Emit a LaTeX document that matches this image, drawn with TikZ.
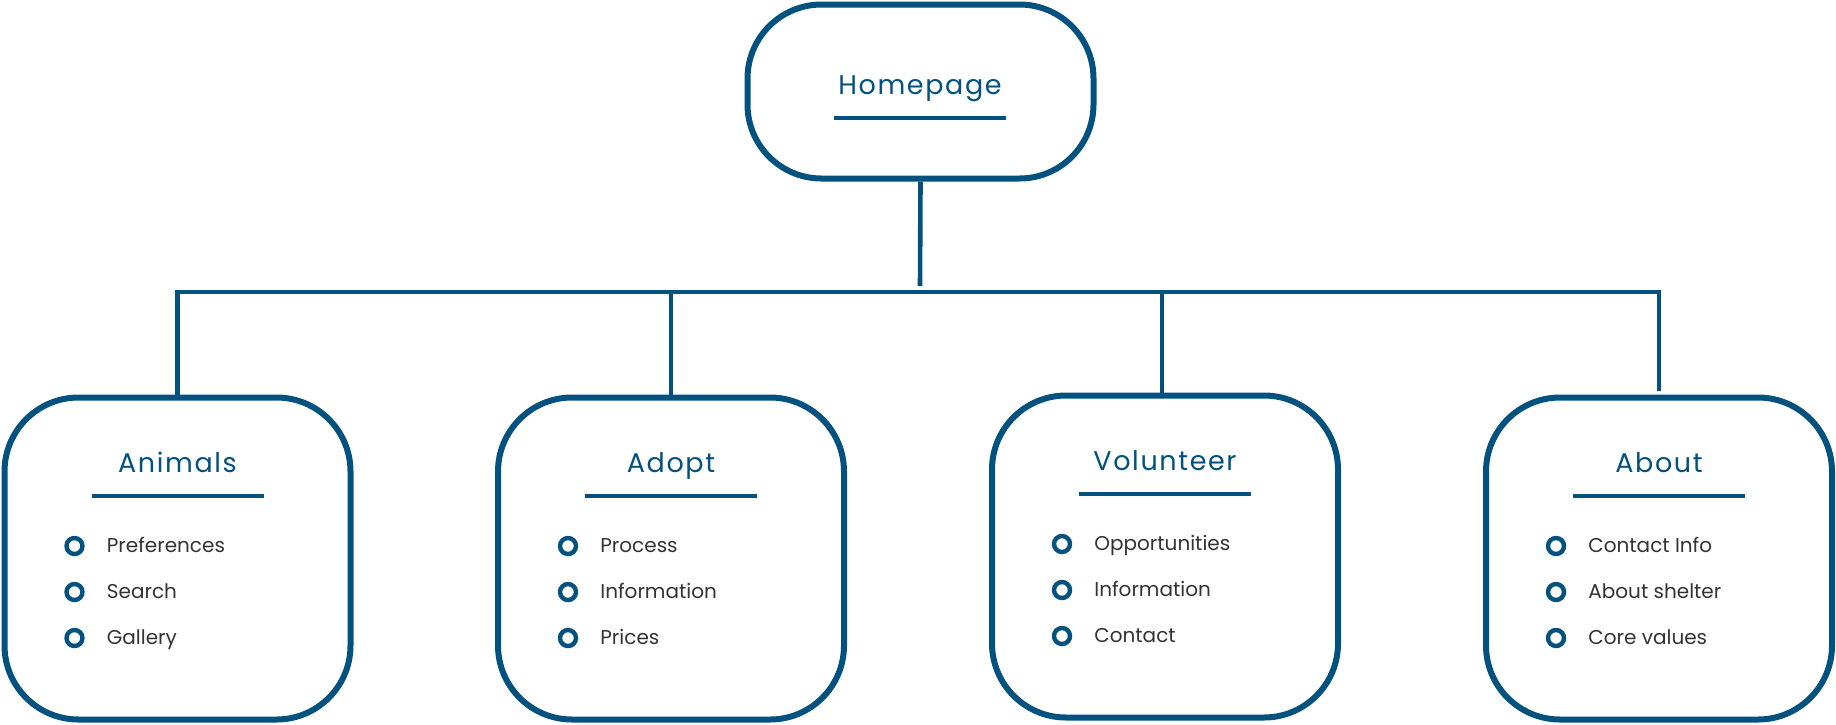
\documentclass[tikz,border=0pt]{standalone}
\usepackage{fontspec}
\setmainfont{Poppins}
\newfontfamily\headfont[LetterSpace=6]{Poppins}
\definecolor{navy}{RGB}{3,81,126}
\definecolor{ink}{RGB}{51,51,51}
\tikzset{
  pagebox/.style={draw=navy, line width=3pt, rounded corners=37pt,
    minimum width=173pt, minimum height=161pt, inner sep=0pt},
  head/.style={anchor=base, inner sep=0pt, text=navy,
    font=\headfont\fontsize{13.5}{16}\selectfont},
  uline/.style={draw=navy, line width=2.1pt},
  link/.style={draw=navy, line width=2.3pt, line join=miter},
  dot/.style={circle, draw=navy, line width=2.2pt, minimum size=8pt, inner sep=0pt},
  item/.style={anchor=base west, inner sep=0pt, text=ink,
    font=\fontsize{10}{12}\selectfont}
}
\begin{document}
\begin{tikzpicture}[x=0.5pt, y=-0.5pt]
  \useasboundingbox (0,0) rectangle (1836,724);

  % top page
  \node[pagebox, minimum height=87pt] (home) at (920.5,91.5) {};
  \node[head] (homet) at (920,94) {Homepage};
  \draw[uline] (834,118) -- (1006,118);

  % sections
  \begin{scope}[shift={(177.5,558.5)}]
    \node[pagebox] (anim) at (0,0) {};
    \node[head] (animt) at (0,-86.5) {Animals};
    \draw[uline] (-86,-62.5) -- (86,-62.5);
    \node[dot] (animd1) at (-103,-12.5) {};
    \node[dot] (animd2) at (-103,33.5) {};
    \node[dot] (animd3) at (-103,79.5) {};
    \node[item] (anim1) at (-71,-6.5) {Preferences};
    \node[item] (anim2) at (-71,39.5) {Search};
    \node[item] (anim3) at (-71,85.5) {Gallery};
  \end{scope}

  \begin{scope}[shift={(671,558.5)}]
    \node[pagebox] (adopt) at (0,0) {};
    \node[head] (adoptt) at (0,-86.5) {Adopt};
    \draw[uline] (-86,-62.5) -- (86,-62.5);
    \node[dot] (adoptd1) at (-103,-12.5) {};
    \node[dot] (adoptd2) at (-103,33.5) {};
    \node[dot] (adoptd3) at (-103,79.5) {};
    \node[item] (adopt1) at (-71,-6.5) {Process};
    \node[item] (adopt2) at (-71,39.5) {Information};
    \node[item] (adopt3) at (-71,85.5) {Prices};
  \end{scope}

  \begin{scope}[shift={(1165,556.5)}]
    \node[pagebox] (vol) at (0,0) {};
    \node[head] (volt) at (0,-86.5) {Volunteer};
    \draw[uline] (-86,-62.5) -- (86,-62.5);
    \node[dot] (vold1) at (-103,-12.5) {};
    \node[dot] (vold2) at (-103,33.5) {};
    \node[dot] (vold3) at (-103,79.5) {};
    \node[item] (vol1) at (-71,-6.5) {Opportunities};
    \node[item] (vol2) at (-71,39.5) {Information};
    \node[item] (vol3) at (-71,85.5) {Contact};
  \end{scope}

  \begin{scope}[shift={(1659,558.5)}]
    \node[pagebox] (about) at (0,0) {};
    \node[head] (aboutt) at (0,-86.5) {About};
    \draw[uline] (-86,-62.5) -- (86,-62.5);
    \node[dot] (aboutd1) at (-103,-12.5) {};
    \node[dot] (aboutd2) at (-103,33.5) {};
    \node[dot] (aboutd3) at (-103,79.5) {};
    \node[item] (about1) at (-71,-6.5) {Contact Info};
    \node[item] (about2) at (-71,39.5) {About shelter};
    \node[item] (about3) at (-71,85.5) {Core values};
  \end{scope}

  % connectors
  \coordinate (bus) at (920,292);
  \coordinate (hub) at (920,286);
  \draw[link] (home.south) -- (hub);
  \draw[link] (anim.north) -- (anim.north |- bus) -- (about.north |- bus) -- ([yshift=2pt]about.north);
  \draw[link] (adopt.north) -- (adopt.north |- bus);
  \draw[link] ([xshift=-1.5pt]vol.north) -- ([xshift=-1.5pt]vol.north |- bus);
\end{tikzpicture}
\end{document}
